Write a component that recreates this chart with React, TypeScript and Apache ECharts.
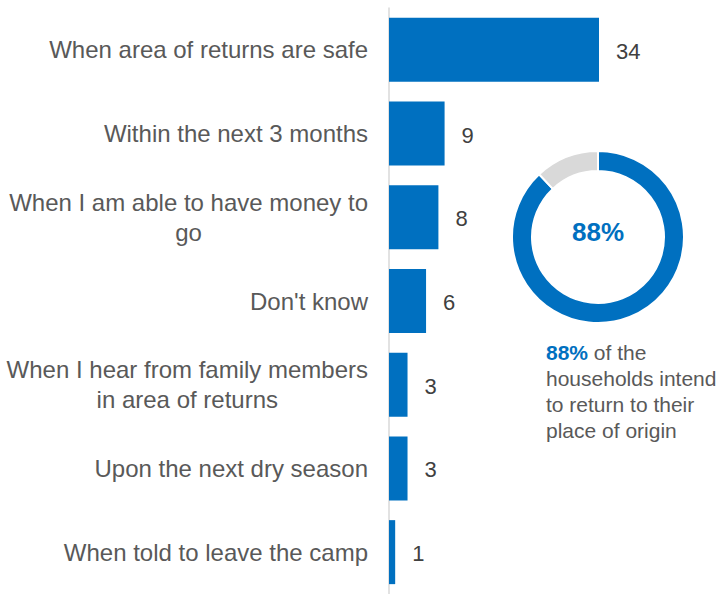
import React, { useEffect, useRef } from "react";
import * as echarts from "echarts";

const categories = [
  "When area of returns are safe",
  "Within the next 3 months",
  "When I am able to have money to\ngo",
  "Don't know",
  "When I hear from family members\nin area of returns",
  "Upon the next dry season",
  "When told to leave the camp",
];
const values = [34, 9, 8, 6, 3, 3, 1];

const intendShare = 88;
const otherShare = 12;
const intendLabel = "88%";
const noteLines = ["of the", "households intend", "to return to their", "place of origin"];

const BLUE = "#0070C0";
const GREY_RING = "#D9D9D9";
const TEXT = "#595959";
const FONT = "'Liberation Sans', Arial, sans-serif";

export default function App() {
  const ref = useRef<HTMLDivElement>(null);
  useEffect(() => {
    document.body.style.margin = "0";
    const chart = echarts.init(ref.current!, undefined, { renderer: "svg" });
    chart.setOption({
      animation: false,
      textStyle: { fontFamily: FONT },
      grid: { left: 389, top: 8, width: 210, height: 589, containLabel: false },
      xAxis: {
        type: "value",
        min: 0,
        max: 34,
        show: false,
        splitLine: { show: false },
      },
      yAxis: {
        type: "category",
        data: categories,
        inverse: true,
        axisTick: { show: false },
        axisLine: { show: true, lineStyle: { color: "#D9D9D9", width: 1.5 } },
        axisLabel: {
          margin: 21,
          fontSize: 24,
          color: TEXT,
          fontFamily: FONT,
          formatter: (v: string) =>
            v
              .split("\n")
              .map((l) => `{c|${l}}`)
              .join("\n"),
          rich: {
            c: { align: "center", fontSize: 24, color: TEXT, lineHeight: 30, fontFamily: FONT },
          },
        },
      },
      series: [
        {
          type: "bar",
          data: values,
          barWidth: 64,
          itemStyle: { color: BLUE },
          label: {
            show: true,
            position: "right",
            distance: 17,
            offset: [0, 1.5],
            fontSize: 22,
            color: "#404040",
            fontFamily: FONT,
          },
        },
        {
          type: "pie",
          center: [598, 237],
          radius: [66, 86],
          startAngle: 90,
          clockwise: true,
          silent: true,
          label: { show: false },
          labelLine: { show: false },
          itemStyle: { borderColor: "#ffffff", borderWidth: 2 },
          data: [
            { value: intendShare, name: "intend", itemStyle: { color: BLUE } },
            { value: otherShare, name: "other", itemStyle: { color: GREY_RING } },
          ],
        },
      ],
      graphic: [
        {
          type: "text",
          x: 598,
          y: 232,
          style: {
            text: intendLabel,
            fontSize: 26,
            fontWeight: "bold",
            fill: BLUE,
            fontFamily: FONT,
            textAlign: "center",
            textVerticalAlign: "middle",
          },
        },
        {
          type: "text",
          x: 546,
          y: 339,
          style: {
            text:
              `{b|${intendLabel}}{n| ${noteLines[0]}}\n` +
              noteLines
                .slice(1)
                .map((l) => `{n|${l}}`)
                .join("\n"),
            textAlign: "left",
            textVerticalAlign: "top",
            rich: {
              b: { fontSize: 21, fontWeight: "bold", fill: BLUE, lineHeight: 26, fontFamily: FONT },
              n: { fontSize: 21, fill: TEXT, lineHeight: 26, fontFamily: FONT },
            },
          },
        },
      ],
    });
    return () => chart.dispose();
  }, []);
  return <div ref={ref} style={{ width: 719, height: 594 }} />;
}
